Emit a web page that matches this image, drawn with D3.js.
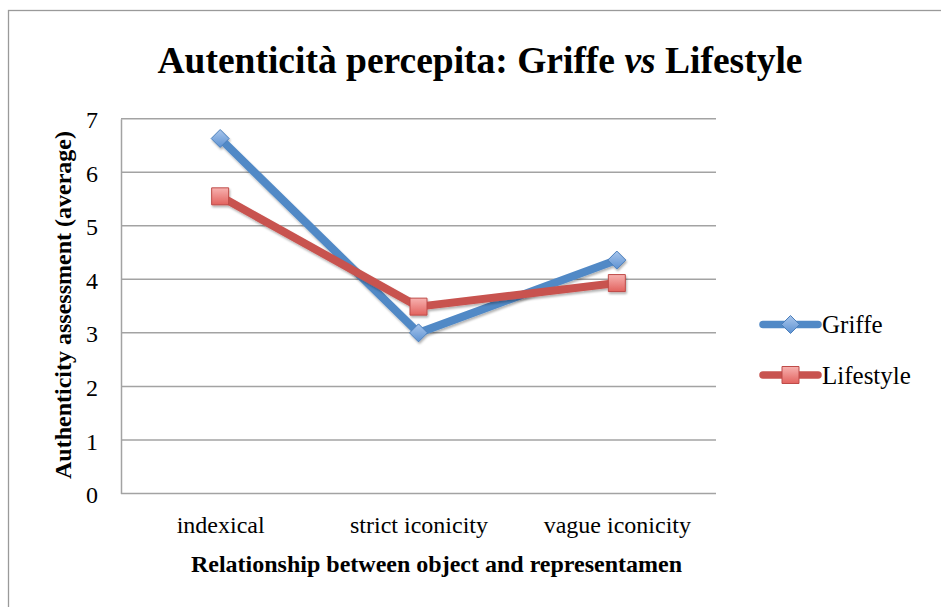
<!DOCTYPE html>
<html><head><meta charset="utf-8">
<script src="https://cdn.jsdelivr.net/npm/d3@7"></script>
<style>html,body{margin:0;padding:0;background:#fff;}svg{display:block;}</style>
</head><body>
<script>
const categories = ["indexical", "strict iconicity", "vague iconicity"];
const seriesNames = ["Griffe", "Lifestyle"];
const griffe = [6.63, 3.0, 4.36];
const lifestyle = [5.55, 3.49, 3.93];
const yTicks = [0, 1, 2, 3, 4, 5, 6, 7];
const title = ["Autenticità percepita: Griffe ", "vs", " Lifestyle"];
const xTitle = "Relationship between object and representamen";
const yTitle = "Authenticity assessment (average)";

const W = 941, H = 607;
const m = {left: 121, right: 716, top: 118.7, bottom: 493.5};
const serif = "'Liberation Serif','Times New Roman',serif";
const colors = {Griffe: "#5189C6", Lifestyle: "#C8534F"};

const svg = d3.select("body").append("svg").attr("width", W).attr("height", H);
const defs = svg.append("defs");
const sh = defs.append("filter").attr("id", "sh").attr("x", "-20%").attr("y", "-20%").attr("width", "140%").attr("height", "140%");
sh.append("feDropShadow").attr("dx", 1).attr("dy", 2).attr("stdDeviation", 1.3).attr("flood-color", "#000").attr("flood-opacity", 0.3);
const gB = defs.append("linearGradient").attr("id", "gB").attr("x1", 0).attr("y1", 0).attr("x2", 0).attr("y2", 1);
gB.append("stop").attr("offset", "0%").attr("stop-color", "#A9C6EC");
gB.append("stop").attr("offset", "100%").attr("stop-color", "#5D92D2");
const gR = defs.append("linearGradient").attr("id", "gR").attr("x1", 0).attr("y1", 0).attr("x2", 0).attr("y2", 1);
gR.append("stop").attr("offset", "0%").attr("stop-color", "#F7B2B0");
gR.append("stop").attr("offset", "100%").attr("stop-color", "#E2625E");

svg.append("rect").attr("width", W).attr("height", H).attr("fill", "#fff");
// chart border
svg.append("rect").attr("x", 8.5).attr("y", 10.5).attr("width", 1000).attr("height", 700)
  .attr("fill", "none").attr("stroke", "#9A9A9A").attr("stroke-width", 1.3);

const x = d3.scalePoint().domain(categories).range([m.left, m.right]).padding(0.5);
const y = d3.scaleLinear().domain([0, 7]).range([m.bottom, m.top]);

// gridlines
svg.append("g").selectAll("line").data(yTicks.filter(d => d > 0)).join("line")
  .attr("x1", m.left).attr("x2", m.right).attr("y1", d => y(d)).attr("y2", d => y(d))
  .attr("stroke", "#A3A3A3").attr("stroke-width", 1.5);

// axes
const yAxis = svg.append("g").attr("transform", `translate(${m.left},0)`)
  .call(d3.axisLeft(y).tickValues(yTicks).tickSize(0).tickPadding(23).tickFormat(d3.format("d")));
yAxis.select(".domain").attr("stroke", "#A3A3A3").attr("stroke-width", 1.5);
yAxis.selectAll("text").attr("font-family", serif).attr("font-size", 24).attr("fill", "#000").attr("dy", "0.38em");

const xAxis = svg.append("g").attr("transform", `translate(0,${m.bottom})`)
  .call(d3.axisBottom(x).tickSize(0).tickPadding(22));
xAxis.select(".domain").attr("stroke", "#A3A3A3").attr("stroke-width", 1.5).attr("d", `M${m.left},0H${m.right}`);
xAxis.selectAll("text").attr("font-family", serif).attr("font-size", 24).attr("fill", "#000").attr("dy", "0.71em");

// series
const line = d3.line().x((d, i) => x(categories[i])).y(d => y(d));
const series = [{name: "Griffe", values: griffe}, {name: "Lifestyle", values: lifestyle}];
const diamond = s => `M0,${-s}L${s},0L0,${s}L${-s},0Z`;
const square = s => `M${-s},${-s}H${s}V${s}H${-s}Z`;

function marker(g, name) {
  if (name === "Griffe") {
    g.append("path").attr("d", diamond(9)).attr("fill", "url(#gB)").attr("stroke", "#4A7EBB").attr("stroke-width", 1);
  } else {
    g.append("path").attr("d", square(8.5)).attr("fill", "url(#gR)").attr("stroke", "#BE4B48").attr("stroke-width", 1);
  }
}

series.forEach(s => {
  const g = svg.append("g").attr("filter", "url(#sh)");
  g.append("path").datum(s.values).attr("d", line).attr("fill", "none")
    .attr("stroke", colors[s.name]).attr("stroke-width", 8).attr("stroke-linejoin", "round").attr("stroke-linecap", "round");
  s.values.forEach((v, i) => {
    const mg = g.append("g").attr("transform", `translate(${x(categories[i])},${y(v)})`);
    marker(mg, s.name);
  });
});

// legend
const leg = svg.append("g");
const legY = d3.scalePoint().domain(seriesNames).range([324.5, 375]);
seriesNames.forEach(n => {
  const g = leg.append("g").attr("transform", `translate(0,${legY(n)})`);
  g.append("line").attr("x1", 763).attr("x2", 818).attr("stroke", colors[n]).attr("stroke-width", 7.5).attr("stroke-linecap", "round");
  const mg = g.append("g").attr("transform", "translate(790.5,0)");
  marker(mg, n);
  g.append("text").attr("x", 822).attr("y", 0).attr("dy", "0.35em").attr("font-family", serif)
    .attr("font-size", 25).attr("fill", "#000").text(n);
});

// title
const t = svg.append("text").attr("x", 480).attr("y", 73).attr("text-anchor", "middle")
  .attr("font-family", serif).attr("font-weight", "bold").attr("font-size", 37.5).attr("fill", "#000");
t.append("tspan").text(title[0]);
t.append("tspan").attr("font-style", "italic").text(title[1]);
t.append("tspan").text(title[2]);

// axis titles
svg.append("text").attr("x", 436.5).attr("y", 572).attr("text-anchor", "middle")
  .attr("font-family", serif).attr("font-weight", "bold").attr("font-size", 24).attr("fill", "#000").text(xTitle);
svg.append("text").attr("transform", "translate(71,305) rotate(-90)").attr("text-anchor", "middle")
  .attr("font-family", serif).attr("font-weight", "bold").attr("font-size", 24).attr("fill", "#000").text(yTitle);
</script>
</body></html>
